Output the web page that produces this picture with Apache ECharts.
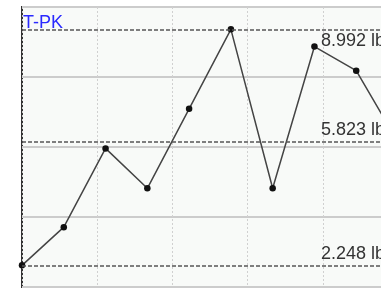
<!DOCTYPE html>
<html>
<head>
<meta charset="utf-8">
<script src="https://cdn.jsdelivr.net/npm/echarts@6/dist/echarts.min.js"></script>
<style>
  html, body { margin: 0; padding: 0; background: #fff; }
  #wrap { width: 381px; height: 289px; overflow: hidden; }
  #chart { width: 400px; height: 289px; }
</style>
</head>
<body>
<div id="wrap"><div id="chart"></div></div>
<script>
const categories = ['1', '2', '3', '4', '5', '6', '7', '8', '9', '10']
const values = [2.248, 3.34, 5.59, 4.45, 6.72, 8.992, 4.45, 8.5, 7.81, 5.77]
const refValues = [8.992, 5.78, 2.248]
const refLabels = ['8.992 lb', '5.823 lb', '2.248 lb']
const refLabelPos = ['insideEndBottom', 'insideEndTop', 'insideEndTop']

const chart = echarts.init(document.getElementById('chart'))

const option = {
  animation: false,
  title: {
    text: 'T-PK',
    left: 23,
    top: 14,
    padding: 0,
    textStyle: {
      color: '#2a2aff',
      fontSize: 18,
      fontWeight: 'normal',
      fontFamily: 'Liberation Sans'
    }
  },
  grid: {
    left: 22,
    top: 7,
    right: 2,
    height: 280,
    show: true,
    backgroundColor: '#f8faf8',
    borderColor: '#333',
    borderWidth: 2
  },
  xAxis: [
    {
      type: 'category',
      data: categories,
      boundaryGap: false,
      axisLine: { show: false },
      axisTick: { show: false },
      axisLabel: { show: false },
      splitLine: { show: false }
    },
    {
      type: 'value',
      min: 0,
      max: 5,
      interval: 1,
      axisLine: { show: false },
      axisTick: { show: false },
      axisLabel: { show: false },
      splitLine: { show: true, lineStyle: { color: '#d0d0d0', type: [2, 2], width: 1 } }
    }
  ],
  yAxis: [
    {
      type: 'value',
      min: 1.63,
      max: 9.63,
      axisLine: { show: false },
      axisTick: { show: false },
      axisLabel: { show: false },
      splitLine: { show: false }
    },
    {
      type: 'value',
      min: 0,
      max: 8,
      interval: 2,
      axisLine: { show: false },
      axisTick: { show: false },
      axisLabel: { show: false },
      splitLine: { show: true, lineStyle: { color: '#cccccc', width: 2 } }
    }
  ],
  series: [
    {
      type: 'line',
      data: values,
      symbol: 'circle',
      symbolSize: 6.5,
      itemStyle: { color: '#111' },
      lineStyle: { color: '#444', width: 1.5 },
      markLine: {
        silent: true,
        symbol: 'none',
        lineStyle: { color: '#555', type: [4, 2], width: 1.5 },
        data: refValues.map((v, i) => ({
          yAxis: v,
          label: {
            position: refLabelPos[i],
            formatter: refLabels[i],
            distance: [13, i === 2 ? 2 : 3],
            color: '#333',
            fontSize: 18,
            fontFamily: 'Liberation Sans'
          }
        }))
      }
    }
  ]
}

chart.setOption(option)
</script>
</body>
</html>
